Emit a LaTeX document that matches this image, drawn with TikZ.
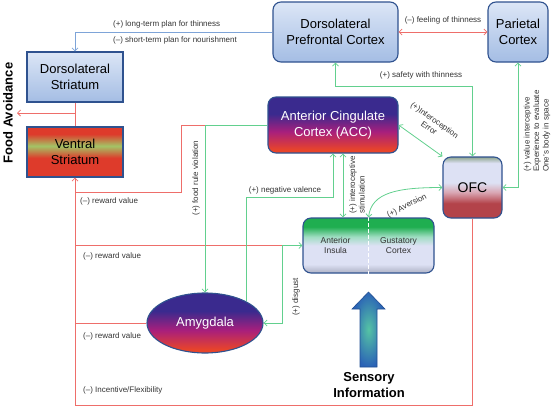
\documentclass[tikz,border=0pt]{standalone}
\usepackage{fontspec}
\setmainfont{Liberation Sans}
\usetikzlibrary{calc,arrows.meta,shapes.geometric}

\definecolor{boxline}{HTML}{2F528F}
\definecolor{redline}{HTML}{EE6E6A}
\definecolor{greenline}{HTML}{62D08E}
\definecolor{blueline}{HTML}{7EA4D8}
\definecolor{labeltext}{HTML}{333333}
\definecolor{pbtop}{HTML}{DCE6F6}
\definecolor{pbbot}{HTML}{A4BDE4}
\definecolor{vsred}{HTML}{DE3B2B}
\definecolor{vsgreen}{HTML}{A3C466}
\definecolor{deeppurple}{HTML}{3A2A8E}
\definecolor{hotmag}{HTML}{A81F7C}
\definecolor{hotred}{HTML}{E8442A}
\definecolor{lavender}{HTML}{DDE1F4}
\definecolor{ofcgreen}{HTML}{8FA58F}
\definecolor{ofcpink}{HTML}{D9A6B2}
\definecolor{ofcred}{HTML}{B3434A}
\definecolor{insgreen}{HTML}{1FAE50}
\definecolor{mint}{HTML}{9FDDC2}
\definecolor{insgrey}{HTML}{B9BDD0}
\definecolor{arrowblue}{HTML}{2B63B6}
\definecolor{arrowteal}{HTML}{55C4A4}

\pgfdeclareverticalshading{paleblue}{100bp}{color(0bp)=(pbbot); color(25bp)=(pbbot); color(75bp)=(pbtop); color(100bp)=(pbtop)}
\pgfdeclareverticalshading{ventral}{100bp}{color(0bp)=(vsred); color(44bp)=(vsred); color(56bp)=(vsgreen); color(68bp)=(vsred); color(100bp)=(vsred)}
\pgfdeclareverticalshading{cingulate}{100bp}{color(0bp)=(hotred); color(28bp)=(hotred); color(44bp)=(hotmag); color(60bp)=(deeppurple); color(100bp)=(deeppurple)}
\pgfdeclareverticalshading{orbital}{100bp}{color(0bp)=(ofcred); color(37bp)=(ofcred); color(46bp)=(ofcpink); color(54bp)=(lavender); color(70bp)=(lavender); color(75bp)=(ofcgreen); color(100bp)=(ofcgreen)}
\pgfdeclareverticalshading{insular}{100bp}{color(0bp)=(insgrey); color(27bp)=(insgrey); color(33bp)=(lavender); color(50bp)=(lavender); color(58bp)=(mint); color(67bp)=(insgreen); color(100bp)=(insgreen)}

\def\regionfont{\fontsize{13}{16}\selectfont}
\def\labfont{\fontsize{8}{9.5}\selectfont}

\tikzset{
	region/.style={draw=boxline, line width=1.1pt, shade, align=center, inner sep=0pt, font=\regionfont},
	roundregion/.style={region, rounded corners=8pt},
	rline/.style={draw=redline, line width=0.8pt},
	gline/.style={draw=greenline, line width=0.8pt},
	bline/.style={draw=blueline, line width=0.8pt},
	lab/.style={text=labeltext, font=\labfont, inner sep=1pt},
	instext/.style={text=labeltext, font=\fontsize{8.5}{10}\selectfont, align=center},
	bigword/.style={font=\bfseries\fontsize{13}{16}\selectfont, align=center}
}

\begin{document}
\begin{tikzpicture}[x=1pt,y=-1pt,>={Straight Barb[length=3pt,width=6pt]}]
		%%%%% START %%%%%
		\useasboundingbox (0,0) rectangle (553,407);
		
		% regions
		\node[region, shading=paleblue, minimum width=96pt, minimum height=50pt] (dstri) at (75,77) {Dorsolateral\\Striatum};
		\node[region, shading=ventral, minimum width=96pt, minimum height=50pt] (vstri) at (75,152) {Ventral\\Striatum};
		\node[roundregion, shading=paleblue, minimum width=125pt, minimum height=60pt] (dlpfc) at (335.5,32) {Dorsolateral\\Prefrontal Cortex};
		\node[roundregion, shading=paleblue, minimum width=60pt, minimum height=60pt] (pariet) at (518,32) {Parietal\\Cortex};
		\node[roundregion, shading=cingulate, text=white, minimum width=130pt, minimum height=56pt] (acc) at (333,125) {Anterior Cingulate\\Cortex (ACC)};
		\node[roundregion, shading=orbital, font=\fontsize{14}{16}\selectfont, minimum width=59pt, minimum height=61pt] (ofc) at (472.5,187.5) {OFC};
		\node[roundregion, shading=insular, minimum width=131pt, minimum height=55pt] (insula) at (368.5,245.5) {};
		\node[region, ellipse, shading=cingulate, text=white, minimum width=116pt, minimum height=60pt] (amyg) at (205,323) {Amygdala};
		
		\draw[white, line width=1.2pt, dash pattern=on 4pt off 2pt] (insula.north) -- (insula.south);
		\node[instext] (antins) at ($(insula.center)+(-33,0)$) {Anterior\\Insula};
		\node[instext] (gust) at ($(insula.center)+(30,0)$) {Gustatory\\Cortex};
		
		% sensory arrow
		\shade[draw=arrowblue!80!black, line width=0.6pt, inner color=arrowteal, outer color=arrowblue] (360,367) -- (360,309) -- (352,309) -- (368.5,292) -- (385,309) -- (377,309) -- (377,367) -- cycle;
		\node[bigword] (sensory) at (369,385) {Sensory\\Information};
		\node[bigword, rotate=90] (avoid) at (8,113) {Food Avoidance};
		
		\coordinate (avoidtip) at (17,113);
		\coordinate (trunk) at (75,405);
		\coordinate (accstim) at ($(acc.south)+(10,0)$);
		
		% red connectors
		\draw[rline] (dstri.south) -- (vstri.north);
		\draw[rline,->] (dstri.south |- avoidtip) -- (avoidtip);
		\draw[rline,->] (ofc.south) |- (trunk) -- (vstri.south);
		\draw[rline] (acc.west) -- ++(-86,0) |- (trunk |- 0,192);
		\draw[rline] (insula.west) ++(-20,0) -- (trunk |- insula.west);
		\draw[rline] (amyg.west) -- (trunk |- amyg.west);
		\draw[rline,<->] (dlpfc.east) -- (pariet.west);
		
		% blue connector
		\draw[bline,->] (dlpfc.west) -| (dstri.north);
		
		% green connectors
		\draw[gline,<->] (ofc.north) -- ++(0,-70) -| (dlpfc.south);
		\draw[gline,<->] (pariet.south) |- (ofc.east);
		\draw[gline,<->] (acc.east) -- (ofc.north west);
		\draw[gline,->] (acc.west) -| (amyg.north);
		\draw[gline,->] (amyg.north east) -- ++(0,-104) -| (acc.south);
		\draw[gline,<->] (accstim) -- (accstim |- insula.north);
		\draw[gline,<->] (insula.north) .. controls +(3,-25) and +(-45,0) .. (ofc.west);
		\draw[gline,<->] (insula.west) -- ++(-20,0) |- (amyg.east);
		
		% labels
		\node[lab, anchor=west] (ltplan) at (112,24) {(+) long-term plan for thinness};
		\node[lab, anchor=west] (stplan) at (112,40) {(--) short-term plan for nourishment};
		\node[lab] (feel) at (443,20) {(--) feeling of thinness};
		\node[lab] (safe) at (421,75) {(+) safety with thinness};
		\node[lab, rotate=90, align=left] (valint) at (537,131) {(+) value interceptive\\Experience to evaluate\\One's body in space};
		\node[lab, rotate=-35, align=center] (interr) at (432,124) {(+)Interoception\\Error};
		\node[lab, rotate=90] (rule) at (196,178) {(+) food rule violation};
		\node[lab] (negval) at (285,190) {(+) negative valence};
		\node[lab, rotate=90, align=left] (stim) at (357,185) {(+) interoceptive\\stimulation};
		\node[lab, rotate=27] (avers) at (407,206) {(+) Aversion};
		\node[lab, rotate=90] (disg) at (296,297) {(+) disgust};
		\node[lab, anchor=west] (rewa) at (79,201) {(--) reward value};
		\node[lab, anchor=west] (rewb) at (82,256) {(--) reward value};
		\node[lab, anchor=west] (rewc) at (82,336) {(--) reward value};
		\node[lab, anchor=west] (incent) at (82,390) {(--) Incentive/Flexibility};
		
		%%%%% END %%%%%
	\end{tikzpicture}
\end{document}
